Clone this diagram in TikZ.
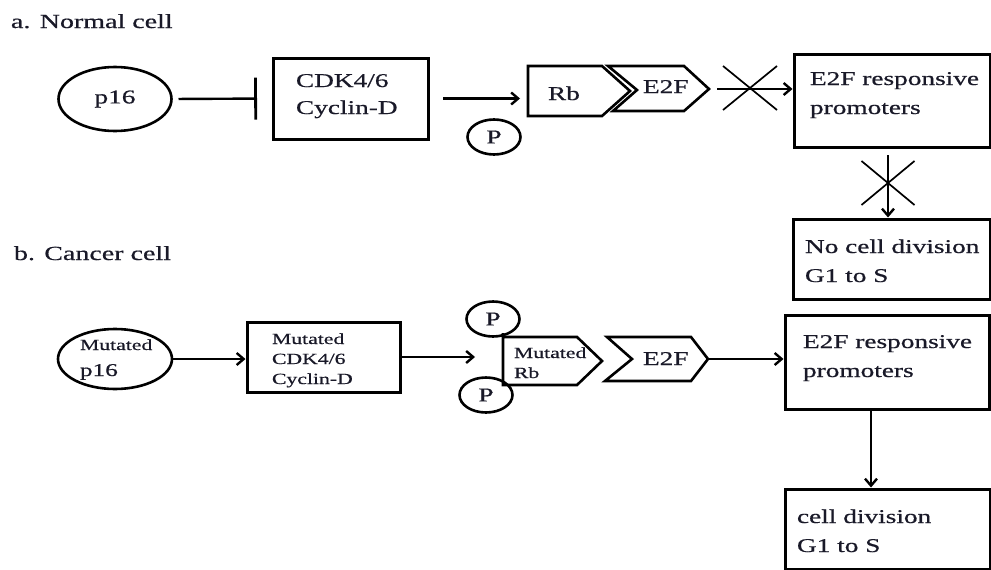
\documentclass[tikz,border=0pt]{standalone}
\usepackage{fontspec}
\setmainfont{Liberation Serif}[FakeStretch=1.4,FakeBold=0.6]
\usetikzlibrary{arrows.meta,shapes.geometric}
\definecolor{txtc}{RGB}{25,25,40}
\begin{document}
\begin{tikzpicture}[x=1pt,y=-1pt,
  every node/.style={inner sep=0pt, outer sep=0pt, text=txtc},
  big/.style={font=\fontsize{19.5}{23}\selectfont},
  small/.style={font=\fontsize{15.5}{20}\selectfont},
  title/.style={font=\fontsize{20}{24}\selectfont, anchor=base west},
  boxs/.style={draw, line width=3pt, rectangle},
  oval/.style={draw, line width=2.6pt, ellipse},
  pcirc/.style={oval, minimum width=53pt, minimum height=35pt, big},
  lbl/.style={anchor=base west},
  arr/.style={line width=2.4pt, -{Straight Barb[length=7pt,width=12pt]}},
  inh/.style={line width=2.4pt, -{Bar[width=42pt,line width=2.8pt]}},
  xmark/.style={line width=1.7pt},
  shp/.style={draw, line width=2.6pt, line join=miter}
]
\useasboundingbox (0,0) rectangle (991,570);

% titles
\node[title] (ta) at (11,28) {a. Normal cell};
\node[title] (tb) at (14,260) {b. Cancer cell};

% ---------- normal cell ----------
\node[oval, big, minimum width=113pt, minimum height=64pt] (p16) at (115,99) {p16};
\node[boxs, minimum width=155pt, minimum height=81pt] (cdk) at (350.5,98.5) {};
\node[big, lbl] (cdkA) at (296,87) {CDK4/6};
\node[big, lbl] (cdkB) at (296,114) {Cyclin-D};
\draw[inh, shorten <=7pt, shorten >=16pt] (p16.east) -- (cdk.west);

\draw[shp] (528,66) -- (602,66) -- (630,91) -- (602,116) -- (528,116) -- cycle;
\coordinate (rbW) at (528,91);
\node[big, lbl] (rb) at (548,100) {Rb};
\draw[shp] (608,66) -- (684,66) -- (709,89) -- (684,111) -- (613,111) -- (637,90) -- cycle;
\coordinate (e2fT) at (709,89);
\node[big, lbl] (e2f) at (643,93) {E2F};
\node[pcirc] (p1) at (494,137) {P};
\draw[arr, shorten <=15pt, shorten >=8pt] (cdk.east) -- (cdk.east -| rbW);

\node[boxs, minimum width=196pt, minimum height=93pt] (pr1) at (892,100.5) {};
\node[big, lbl] (pr1a) at (810,85) {E2F responsive};
\node[big, lbl] (pr1b) at (810,114) {promoters};
\draw[arr, shorten <=8pt, shorten >=1.5pt] (e2fT) -- (e2fT -| pr1.west);
\coordinate (x1) at (750,88);
\draw[xmark] ([shift={(-27,-22)}]x1) -- ([shift={(27,22)}]x1)
             ([shift={(-27,22)}]x1) -- ([shift={(27,-22)}]x1);

\node[boxs, minimum width=197pt, minimum height=80pt] (nd) at (891.5,259) {};
\node[big, lbl] (nda) at (805,253) {No cell division};
\node[big, lbl] (ndb) at (805,282) {G1 to S};
\draw[arr, shorten <=8pt, shorten >=1.5pt] ([xshift=-4pt]pr1.south) -- ([xshift=-4pt]pr1.south |- nd.north);
\coordinate (x2) at (888,183);
\draw[xmark] ([shift={(-26.5,-22)}]x2) -- ([shift={(26.5,22)}]x2)
             ([shift={(-26.5,22)}]x2) -- ([shift={(26.5,-22)}]x2);

% ---------- cancer cell ----------
\node[oval, minimum width=114pt, minimum height=60pt] (mp16) at (115,359) {};
\node[small, lbl] (mp16a) at (80,350) {Mutated};
\node[font=\fontsize{18}{20}\selectfont, lbl] (mp16b) at (80,376) {p16};
\node[boxs, minimum width=153pt, minimum height=70pt] (mcdk) at (323.5,357) {};
\node[small, lbl] (mcdka) at (272,344) {Mutated};
\node[small, lbl] (mcdkb) at (272,364) {CDK4/6};
\node[small, lbl] (mcdkc) at (272,384) {Cyclin-D};
\draw[arr, shorten >=1.5pt] (mp16.east) -- (mp16.east -| mcdk.west);

\draw[shp] (503,333) -- (503,385) -- (577,385) -- (602,361) -- (577,337) -- (503,337);
\coordinate (mrbW) at (503,358);
\node[pcirc] (p2) at (493,319) {P};
\node[pcirc] (p3) at (486,395) {P};
\node[small, lbl] (mrba) at (514,358) {Mutated};
\node[small, lbl] (mrbb) at (514,378) {Rb};
\draw[arr, shorten >=28pt] (mcdk.east) -- (mcdk.east -| mrbW);

\draw[shp] (607,337) -- (691,337) -- (708,359) -- (691,381) -- (605,381) -- (632,359) -- cycle;
\coordinate (me2fT) at (708,359);
\node[big, lbl] (me2f) at (643,365) {E2F};

\node[boxs, minimum width=204pt, minimum height=94pt] (pr2) at (887,362) {};
\node[big, lbl] (pr2a) at (803,348) {E2F responsive};
\node[big, lbl] (pr2b) at (803,377) {promoters};
\draw[arr, shorten >=1.5pt] (me2fT) -- (me2fT -| pr2.west);

\node[boxs, minimum width=205pt, minimum height=80pt] (cd) at (887.5,529) {};
\node[big, lbl] (cda) at (797,523) {cell division};
\node[big, lbl] (cdb) at (797,552) {G1 to S};
\draw[arr, shorten >=1.5pt] ([xshift=-16pt]pr2.south) -- ([xshift=-16pt]pr2.south |- cd.north);
\end{tikzpicture}
\end{document}
